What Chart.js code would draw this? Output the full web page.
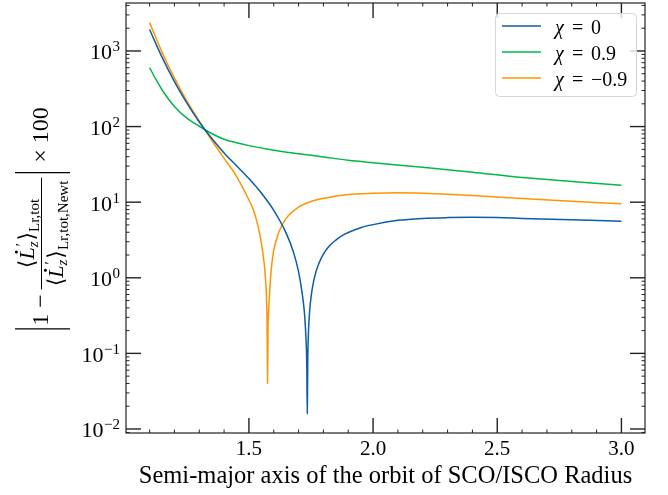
<!DOCTYPE html>
<html lang="en">
<head>
<meta charset="UTF-8">
<title>Relative difference vs semi-major axis</title>
<script src="https://cdn.jsdelivr.net/npm/chart.js"></script>
<style>
  html, body { margin: 0; padding: 0; background: #fff; }
</style>
</head>
<body>
<canvas id="chart" width="668" height="495"></canvas>
<script>
// values
const chiValues = ['0', '0.9', '−0.9'];
const lineColors = ['#0C5DA5', '#00B945', '#FF9500'];

const xChi0 = [1.10, 1.15, 1.20, 1.25, 1.30, 1.35, 1.40, 1.45, 1.50, 1.55, 1.60, 1.65, 1.68, 1.70, 1.71, 1.72, 1.725, 1.73, 1.733, 1.735, 1.737, 1.74, 1.745, 1.75, 1.76, 1.77, 1.78, 1.79, 1.80, 1.82, 1.85, 1.875, 1.90, 1.95, 2.00, 2.10, 2.20, 2.30, 2.40, 2.50, 2.60, 2.80, 3.00];
const yChi0 = [1920, 830, 394, 206, 115, 70, 44.8, 30.3, 20.5, 13.2, 7.8, 3.9, 2.15, 1.2, 0.78, 0.45, 0.30, 0.15, 0.07, 0.016, 0.08, 0.2, 0.38, 0.55, 0.88, 1.2, 1.5, 1.78, 2.05, 2.55, 3.15, 3.6, 3.97, 4.6, 5.05, 5.75, 6.1, 6.25, 6.3, 6.25, 6.1, 5.85, 5.6];

const xChiPos = [1.10, 1.125, 1.15, 1.20, 1.25, 1.30, 1.35, 1.40, 1.45, 1.50, 1.60, 1.70, 1.80, 1.90, 2.00, 2.20, 2.40, 2.60, 2.80, 3.00];
const yChiPos = [603, 423, 307, 184, 129, 101, 81, 68, 61, 56, 48.7, 43.8, 39.7, 35.9, 33.3, 29, 24.9, 21.2, 18.8, 16.8];

const xChiNeg = [1.10, 1.15, 1.20, 1.25, 1.30, 1.35, 1.40, 1.45, 1.50, 1.52, 1.54, 1.55, 1.56, 1.565, 1.57, 1.573, 1.575, 1.577, 1.58, 1.585, 1.59, 1.60, 1.62, 1.65, 1.70, 1.75, 1.80, 1.90, 2.00, 2.10, 2.20, 2.40, 2.60, 2.80, 3.00];
const yChiNeg = [2370, 966, 437, 219, 119, 66, 38, 22, 10.7, 7.6, 4.3, 2.9, 1.7, 1.15, 0.62, 0.26, 0.040, 0.22, 0.4, 0.78, 1.3, 2.3, 4.0, 6.1, 8.6, 10.2, 11.2, 12.6, 13.1, 13.3, 13.1, 12.3, 11.2, 10.3, 9.5];

const xMajorTicks = [1.5, 2.0, 2.5, 3.0];
const xMinorTicks = [1.1, 1.2, 1.3, 1.4, 1.6, 1.7, 1.8, 1.9, 2.1, 2.2, 2.3, 2.4, 2.6, 2.7, 2.8, 2.9];
const yDecades = [-2, -1, 0, 1, 2, 3];

const xTitle = 'Semi-major axis of the orbit of SCO/ISCO Radius';

const X_MIN = 1.005, X_MAX = 3.095;
const Y_MIN = 0.00885, Y_MAX = 4310;

const FONT = '"Liberation Serif", "DejaVu Serif", serif';
const roman = s => s + 'px ' + FONT;
const italic = s => 'italic ' + s + 'px ' + FONT;

function pts(xs, ys) {
  return xs.map((x, i) => ({ x: x, y: ys[i] }));
}

function line(ctx, x1, y1, x2, y2) {
  ctx.beginPath();
  ctx.moveTo(x1, y1);
  ctx.lineTo(x2, y2);
  ctx.stroke();
}

// y axis label: |1 - <L'z>_Lr,tot / <L'z>_Lr,tot,Newt| x 100, written rotated
function drawYTitle(ctx, centerY) {
  const base = 24, frac = 22, sub = 15;

  // piece that renders <L'_z>_{sub}; returns its width
  function bracketTerm(u, v, subText, draw) {
    let w = 0;
    ctx.font = roman(frac);
    const lw = ctx.measureText('⟨').width;
    if (draw) ctx.fillText('⟨', u + w, v);
    w += lw;
    ctx.font = italic(frac);
    const Lw = ctx.measureText('L').width;
    if (draw) {
      ctx.fillText('L', u + w, v);
      ctx.beginPath();
      ctx.arc(u + w + Lw * 0.62, v - frac * 0.8, 1.5, 0, Math.PI * 2);
      ctx.fill();
    }
    w += Lw;
    ctx.font = roman(sub);
    const pw = ctx.measureText('′').width;
    if (draw) ctx.fillText('′', u + w + 1, v - 8);
    ctx.font = italic(sub);
    const zw = ctx.measureText('z').width;
    if (draw) ctx.fillText('z', u + w, v + 4);
    w += Math.max(pw, zw) + 1;
    ctx.font = roman(frac);
    const rw = ctx.measureText('⟩').width;
    if (draw) ctx.fillText('⟩', u + w, v);
    w += rw;
    ctx.font = roman(sub);
    const sw = ctx.measureText(subText).width;
    if (draw) ctx.fillText(subText, u + w, v + 5);
    w += sw;
    return w;
  }

  const numW = bracketTerm(0, 0, 'Lr,tot', false);
  const denW = bracketTerm(0, 0, 'Lr,tot,Newt', false);
  ctx.font = roman(base);
  const oneW = ctx.measureText('1').width;
  const minW = ctx.measureText('−').width;
  const timesW = ctx.measureText('×').width;
  const hundW = ctx.measureText('100').width;

  const fracW = Math.max(numW, denW) + 6;
  const total = 3 + oneW + 6 + minW + 5 + fracW + 5 + 10 + timesW + 6 + hundW;

  ctx.save();
  ctx.translate(48, centerY + total / 2);
  ctx.rotate(-Math.PI / 2);
  ctx.fillStyle = '#000';
  ctx.strokeStyle = '#000';
  ctx.textBaseline = 'alphabetic';
  ctx.textAlign = 'left';

  let u = 0;
  ctx.lineWidth = 1.3;
  line(ctx, u, -33, u, 22);
  u += 3;
  ctx.font = roman(base);
  ctx.fillText('1', u, 0);
  u += oneW + 6;
  ctx.fillText('−', u, 0);
  u += minW + 5;
  ctx.lineWidth = 1;
  line(ctx, u, -6.5, u + fracW, -6.5);
  bracketTerm(u + (fracW - numW) / 2, -14, 'Lr,tot', true);
  bracketTerm(u + (fracW - denW) / 2, 15, 'Lr,tot,Newt', true);
  u += fracW + 5;
  ctx.lineWidth = 1.3;
  line(ctx, u, -33, u, 22);
  u += 10;
  ctx.font = roman(base);
  ctx.fillText('×', u, 0);
  u += timesW + 6;
  ctx.fillText('100', u, 0);
  ctx.restore();
}

const decor = {
  id: 'decor',
  afterDatasetsDraw(chart) {
    const { ctx, chartArea: a, scales } = chart;
    const x = scales.x, y = scales.y;
    ctx.save();
    ctx.strokeStyle = '#222';

    // x ticks, bottom and top, pointing inwards
    x.ticks.forEach(t => {
      const px = x.getPixelForValue(t.value);
      const major = xMajorTicks.includes(t.value);
      ctx.lineWidth = major ? 1.4 : 1;
      const len = major ? 15 : 3.5;
      line(ctx, px, a.bottom, px, a.bottom - len);
      line(ctx, px, a.top, px, a.top + len);
    });
    // y ticks, left and right
    y.ticks.forEach(t => {
      const py = y.getPixelForValue(t.value);
      const lg = Math.log10(t.value);
      const major = Math.abs(lg - Math.round(lg)) < 1e-9;
      ctx.lineWidth = major ? 1.4 : 1;
      const len = major ? 15 : 3.5;
      line(ctx, a.left, py, a.left + len, py);
      line(ctx, a.right, py, a.right - len, py);
    });

    // frame
    ctx.lineWidth = 1.2;
    ctx.strokeRect(a.left, a.top, a.right - a.left, a.bottom - a.top);

    // y tick labels 10^k
    ctx.fillStyle = '#000';
    ctx.textBaseline = 'alphabetic';
    ctx.textAlign = 'left';
    yDecades.forEach(k => {
      const py = y.getPixelForValue(Math.pow(10, k));
      const exp = k < 0 ? '−' + (-k) : String(k);
      ctx.font = roman(15);
      const ew = ctx.measureText(exp).width;
      ctx.font = roman(22);
      const bw = ctx.measureText('10').width;
      const right = a.left - 6;
      ctx.fillText('10', right - ew - bw - 0.5, py + 8.5);
      ctx.font = roman(15);
      ctx.fillText(exp, right - ew, py + 0.5);
    });

    // y axis title
    drawYTitle(ctx, (a.top + a.bottom) / 2);

    // legend
    const lx = 495, ly = 13, lwid = 141, lh = 83;
    ctx.beginPath();
    ctx.roundRect(lx + 0.5, ly + 0.5, lwid, lh, 4);
    ctx.fillStyle = 'rgba(255,255,255,0.8)';
    ctx.fill();
    ctx.strokeStyle = '#d6d6d6';
    ctx.lineWidth = 1;
    ctx.stroke();
    chart.data.datasets.forEach((ds, i) => {
      const ry = 26 + i * 26;
      ctx.strokeStyle = ds.borderColor;
      ctx.lineWidth = 1.5;
      line(ctx, 502, ry, 541, ry);
      ctx.fillStyle = '#000';
      ctx.font = italic(20);
      ctx.fillText('χ', 555, ry + 7.5);
      ctx.font = roman(20);
      ctx.fillText('=', 572, ry + 7.5);
      ctx.fillText(chiValues[i], 591, ry + 7.5);
    });
    ctx.restore();
  }
};

const datasets = [
  { label: 'χ = ' + chiValues[0], data: pts(xChi0, yChi0), borderColor: lineColors[0] },
  { label: 'χ = ' + chiValues[1], data: pts(xChiPos, yChiPos), borderColor: lineColors[1] },
  { label: 'χ = ' + chiValues[2], data: pts(xChiNeg, yChiNeg), borderColor: lineColors[2] }
].map(d => Object.assign(d, {
  borderWidth: 1.5,
  pointRadius: 0,
  fill: false,
  cubicInterpolationMode: 'monotone'
}));

new Chart(document.getElementById('chart'), {
  type: 'line',
  data: { datasets: datasets },
  options: {
    responsive: false,
    animation: false,
    devicePixelRatio: 1,
    layout: { padding: { top: 3, right: 23, left: 0, bottom: 0 } },
    plugins: {
      legend: { display: false },
      tooltip: { enabled: false }
    },
    scales: {
      x: {
        type: 'linear',
        min: X_MIN,
        max: X_MAX,
        grid: { display: false },
        border: { display: false },
        afterBuildTicks: s => {
          s.ticks = xMinorTicks.concat(xMajorTicks)
            .sort((p, q) => p - q)
            .map(v => ({ value: v }));
        },
        afterFit: s => { s.height = 62; },
        ticks: {
          autoSkip: false,
          maxRotation: 0,
          padding: -4,
          color: '#000',
          font: { family: FONT, size: 21 },
          callback: v => xMajorTicks.includes(v) ? v.toFixed(1) : ''
        },
        title: {
          display: true,
          text: xTitle,
          color: '#000',
          font: { family: FONT, size: 24.5 },
          padding: { top: 0, bottom: 4 }
        }
      },
      y: {
        type: 'logarithmic',
        min: Y_MIN,
        max: Y_MAX,
        grid: { display: false },
        border: { display: false },
        afterBuildTicks: s => {
          const out = [];
          for (let d = -3; d <= 3; d++) {
            for (let m = 1; m <= 9; m++) {
              const v = m * Math.pow(10, d);
              if (v >= Y_MIN && v <= Y_MAX) out.push({ value: v });
            }
          }
          s.ticks = out;
        },
        afterFit: s => { s.width = 126; },
        ticks: { display: false }
      }
    }
  },
  plugins: [decor]
});
</script>
</body>
</html>
